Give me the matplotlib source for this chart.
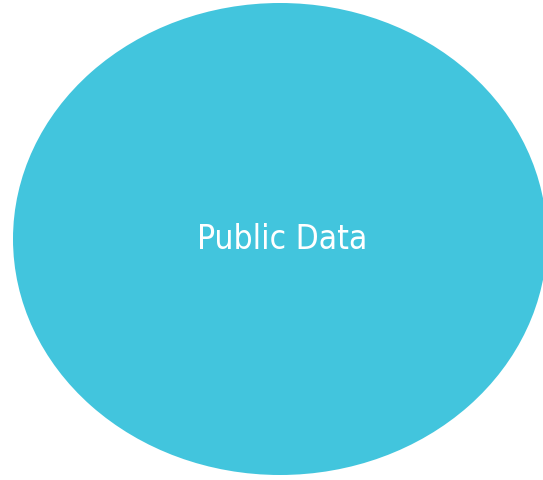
import matplotlib.pyplot as plt
from matplotlib.patches import Ellipse

# single-set venn
set_labels = ["Public Data"]
set_sizes = [1.0]
set_colors = ["#42c5dd"]

fig = plt.figure(figsize=(5.43, 4.81), dpi=100)
ax = fig.add_axes([0, 0, 1, 1])
ax.set_xlim(0, 543)
ax.set_ylim(481, 0)
ax.axis("off")

for label, size, color in zip(set_labels, set_sizes, set_colors):
    w = 534 * size
    h = 472 * size
    ax.add_patch(Ellipse((280, 240), w, h, facecolor=color, edgecolor="none"))
    ax.text(282, 240, label, ha="center", va="center", color="white",
            fontsize=24, family="DejaVu Sans", fontstretch="condensed")

plt.savefig("out.png", dpi=100)
